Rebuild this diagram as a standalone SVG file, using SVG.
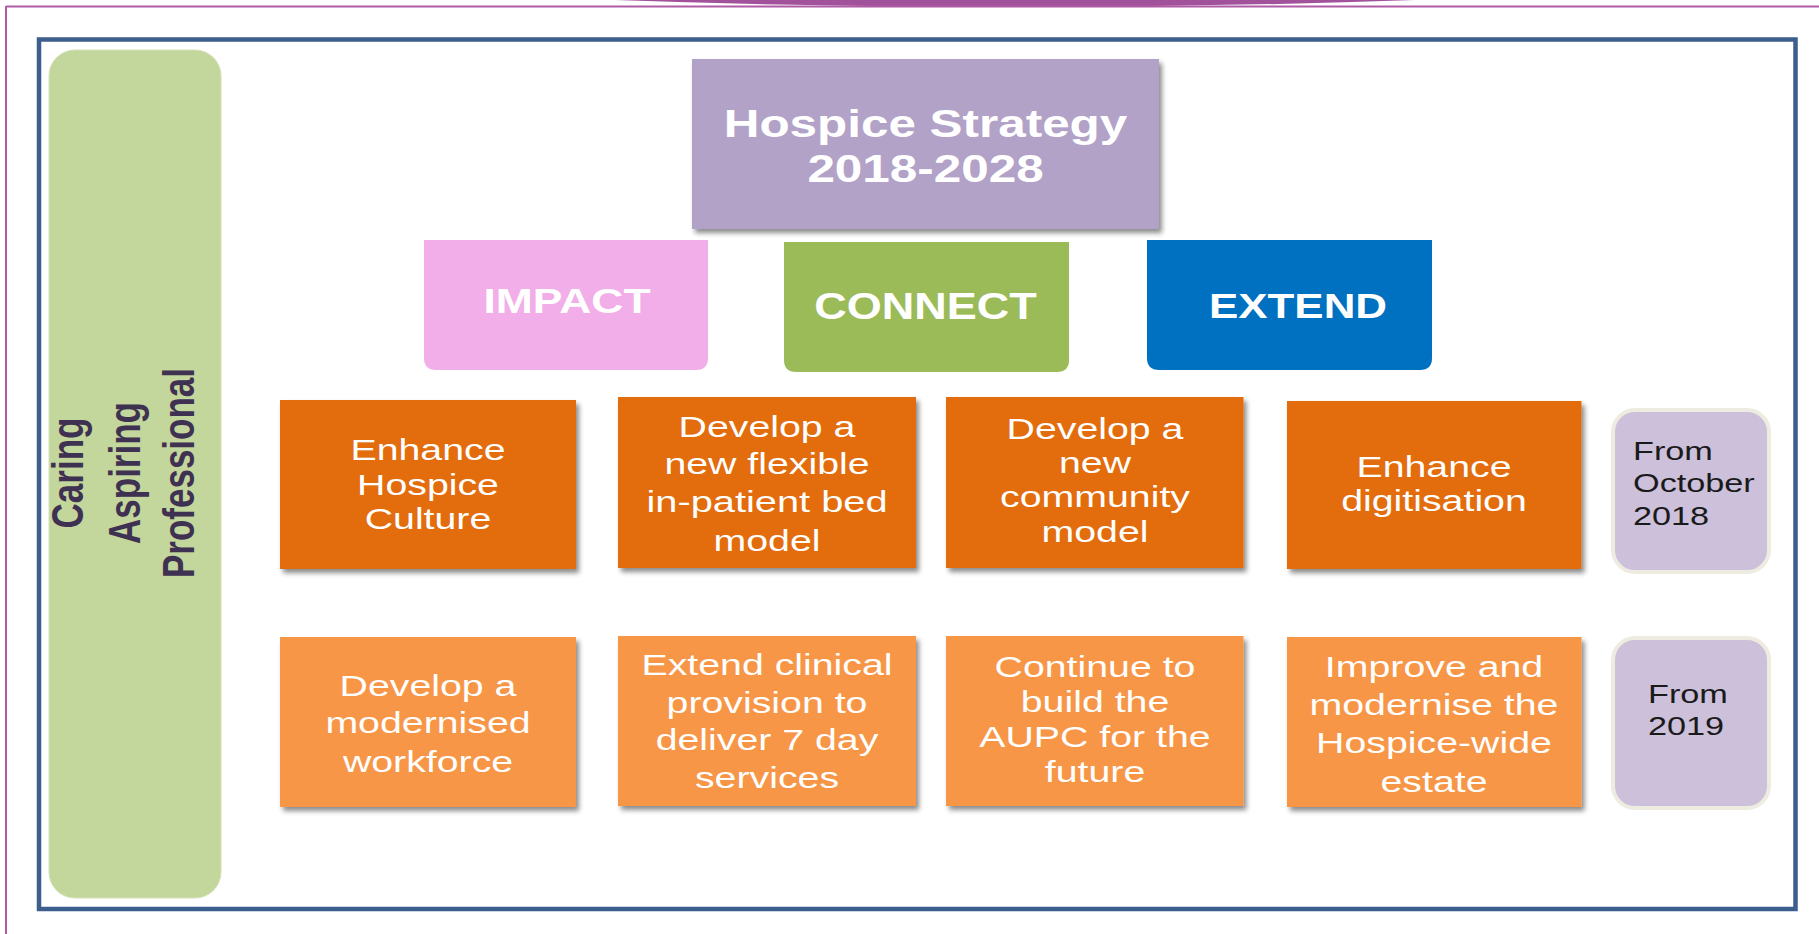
<svg xmlns="http://www.w3.org/2000/svg" width="1819" height="934" viewBox="0 0 1819 934">
<defs>
<filter id="sh" x="-10%" y="-10%" width="125%" height="130%">
<feDropShadow dx="3" dy="4" stdDeviation="2.5" flood-color="#000" flood-opacity="0.45"/>
</filter>
<style>
.t{font-family:"Liberation Sans",Arial,sans-serif;fill:#fff;text-anchor:middle}
.b{font-weight:bold}
.r{font-size:29px}
.k{font-family:"Liberation Sans",Arial,sans-serif;fill:#1a1a1a;font-size:25px}
.o1{fill:#E36C0A}
.o2{fill:#F79646}
.dt{fill:#CCC0DA;stroke:#EEECE1;stroke-width:4}
</style>
</defs>
<rect width="1819" height="934" fill="#fff"/>
<g id="page-border">
<path d="M615,0 Q1015,14 1415,0 Z" fill="#A2529A"/>
<line x1="6" y1="6.5" x2="1819" y2="6.5" stroke="#B05BA5" stroke-width="2"/>
<line x1="6" y1="6" x2="6" y2="934" stroke="#B05BA5" stroke-width="2"/>
</g>
<g id="frame">
<rect x="39" y="39.5" width="1756.5" height="869.5" fill="none" stroke="#3B5E8C" stroke-width="4.5"/>
</g>
<g id="values">
<rect x="49" y="50" width="172" height="848" rx="26" fill="#C3D69B" stroke="#D3E1B6" stroke-width="1"/>
<g class="b" font-family="Liberation Sans, Arial, sans-serif" font-size="35" fill="#3F3152" text-anchor="middle">
<text transform="translate(83,473) scale(1.28,1) rotate(-90)">Caring</text>
<text transform="translate(140,473) scale(1.28,1) rotate(-90)">Aspiring</text>
<text transform="translate(194,473) scale(1.28,1) rotate(-90)">Professional</text>
</g>
</g>
<g id="connectors"></g>
<g id="title">
<rect x="692" y="59" width="467" height="170" fill="#B3A2C7" filter="url(#sh)"/>
<text class="t b" font-size="38" transform="translate(925.5,0) scale(1.3,1)" x="0" y="137">Hospice Strategy</text>
<text class="t b" font-size="38" transform="translate(925.5,0) scale(1.3,1)" x="0" y="182">2018-2028</text>
</g>
<g id="impact">
<path d="M424,240 H708 V358 Q708,370 696,370 H436 Q424,370 424,358 Z" fill="#F2AEE8"/>
<text class="t b" font-size="36" transform="translate(567,0) scale(1.235,1)" x="0" y="313">IMPACT</text>
</g>
<g id="connect">
<path d="M784,242 H1069 V360 Q1069,372 1057,372 H796 Q784,372 784,360 Z" fill="#9BBB59"/>
<text class="t b" font-size="36" transform="translate(925.5,0) scale(1.25,1)" x="0" y="319">CONNECT</text>
</g>
<g id="extend">
<path d="M1147,240 H1432 V358 Q1432,370 1420,370 H1159 Q1147,370 1147,358 Z" fill="#0070C0"/>
<text class="t b" font-size="36" transform="translate(1298,0) scale(1.22,1)" x="0" y="318">EXTEND</text>
</g>
<g id="n-culture">
<rect class="o1" x="280" y="400" width="296" height="169" filter="url(#sh)"/>
<g class="t r" transform="translate(428,0) scale(1.355,1)">
<text x="0" y="460">Enhance</text><text x="0" y="495">Hospice</text><text x="0" y="529">Culture</text>
</g>
</g>
<g id="n-bed">
<rect class="o1" x="618" y="397" width="298" height="171" filter="url(#sh)"/>
<g class="t r" transform="translate(767,0) scale(1.355,1)">
<text x="0" y="437">Develop a</text><text x="0" y="474">new flexible</text><text x="0" y="512" textLength="178" lengthAdjust="spacingAndGlyphs">in-patient bed</text><text x="0" y="551">model</text>
</g>
</g>
<g id="n-community">
<rect class="o1" x="946" y="397" width="297.5" height="171" filter="url(#sh)"/>
<g class="t r" transform="translate(1095,0) scale(1.355,1)">
<text x="0" y="439">Develop a</text><text x="0" y="473">new</text><text x="0" y="507">community</text><text x="0" y="542">model</text>
</g>
</g>
<g id="n-digitisation">
<rect class="o1" x="1287" y="401" width="294.5" height="168" filter="url(#sh)"/>
<g class="t r" transform="translate(1434,0) scale(1.355,1)">
<text x="0" y="477">Enhance</text><text x="0" y="511">digitisation</text>
</g>
</g>
<g id="d-2018">
<rect class="dt" x="1613" y="410" width="156" height="162" rx="22"/>
<g class="k" transform="translate(1633,0) scale(1.37,1)">
<text x="0" y="460">From</text><text x="0" y="492">October</text><text x="0" y="525">2018</text>
</g>
</g>
<g id="n-workforce">
<rect class="o2" x="280" y="637" width="296" height="170" filter="url(#sh)"/>
<g class="t r" transform="translate(428,0) scale(1.355,1)">
<text x="0" y="696">Develop a</text><text x="0" y="733">modernised</text><text x="0" y="772">workforce</text>
</g>
</g>
<g id="n-clinical">
<rect class="o2" x="618" y="636" width="298" height="170" filter="url(#sh)"/>
<g class="t r" transform="translate(767,0) scale(1.355,1)">
<text x="0" y="675">Extend clinical</text><text x="0" y="713">provision to</text><text x="0" y="750">deliver 7 day</text><text x="0" y="788">services</text>
</g>
</g>
<g id="n-aupc">
<rect class="o2" x="946" y="636" width="297.5" height="170" filter="url(#sh)"/>
<g class="t r" transform="translate(1095,0) scale(1.355,1)">
<text x="0" y="677">Continue to</text><text x="0" y="712">build the</text><text x="0" y="747">AUPC for the</text><text x="0" y="782">future</text>
</g>
</g>
<g id="n-estate">
<rect class="o2" x="1287" y="637" width="294.5" height="170" filter="url(#sh)"/>
<g class="t r" transform="translate(1434,0) scale(1.355,1)">
<text x="0" y="677">Improve and</text><text x="0" y="715">modernise the</text><text x="0" y="753">Hospice-wide</text><text x="0" y="792">estate</text>
</g>
</g>
<g id="d-2019">
<rect class="dt" x="1613" y="638" width="156" height="170" rx="22"/>
<g class="k" transform="translate(1648,0) scale(1.37,1)">
<text x="0" y="703">From</text><text x="0" y="735">2019</text>
</g>
</g>
</svg>
